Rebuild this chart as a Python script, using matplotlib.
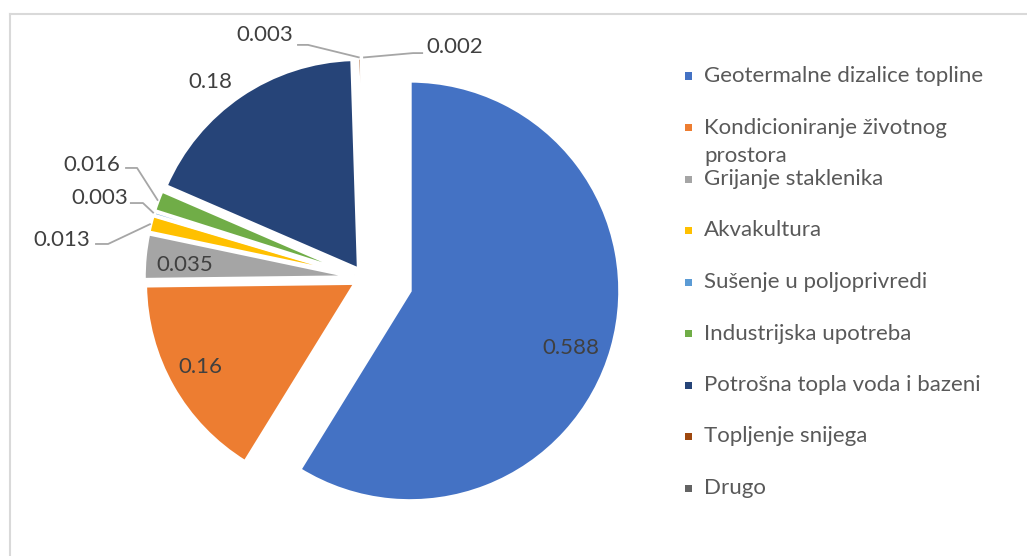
import numpy as np
import matplotlib.pyplot as plt
from matplotlib.patches import Rectangle
from matplotlib.lines import Line2D

categories = ['Geotermalne dizalice topline', 'Kondicioniranje životnog\nprostora',
              'Grijanje staklenika', 'Akvakultura', 'Sušenje u poljoprivredi',
              'Industrijska upotreba', 'Potrošna topla voda i bazeni',
              'Topljenje snijega', 'Drugo']
values = [0.588, 0.16, 0.035, 0.013, 0.003, 0.016, 0.18, 0.003, 0.002]
value_labels = ['0.588', '0.16', '0.035', '0.013', '0.003', '0.016', '0.18', '0.003', '0.002']
colors = ['#4472C4', '#ED7D31', '#A5A5A5', '#FFC000', '#5B9BD5',
          '#70AD47', '#264478', '#9E480E', '#636363']

plt.rcParams['font.family'] = ['Lato', 'DejaVu Sans']

W, H = 1027, 556
R = 210            # pie radius in px
cx, cy = 364.5, 278  # pie centre in px (from top-left)

fig = plt.figure(figsize=(W / 100, H / 100), dpi=100)
ax = fig.add_axes([0, 0, 1, 1])

explode = [0.225] + [0.05] * 8
wedges, _ = ax.pie(values, colors=colors, explode=explode, startangle=90,
                   counterclock=False,
                   wedgeprops=dict(edgecolor='white', linewidth=2.5))
ax.set_aspect('auto')
ax.set_xlim(-cx / R, (W - cx) / R)
ax.set_ylim(-(H - cy) / R, cy / R)
ax.axis('off')


def wedge_point(w, r, dtheta=0.0):
    ang = np.deg2rad((w.theta1 + w.theta2) / 2 + dtheta)
    return w.center[0] + r * np.cos(ang), w.center[1] + r * np.sin(ang)


lab_col = '#404040'
fs = 16

# labels inside / next to the big slices: radius, angle offset
inside = {0: (0.815, -3.7), 1: (0.84, -1.1), 2: (0.81, 1.6), 6: (1.14, 4.2)}
for i, (r, dt) in inside.items():
    x, y = wedge_point(wedges[i], r, dt)
    ax.text(x, y, value_labels[i], ha='center', va='center', fontsize=fs, color=lab_col)

# small slices with leader lines: text x, text y, tail start x, elbow x, line y
outside = {
    3: (-1.440, 0.181, -1.283, -1.221, 0.162),
    4: (-1.260, 0.381, -1.117, -1.055, 0.357),
    5: (-1.298, 0.538, -1.140, -1.083, 0.524),
    7: (-0.474, 1.157, -0.321, -0.269, 1.110),
    8: (0.431, 1.100, 0.279, 0.231, 1.071),
}
for i, (tx, ty, xs, xe, yl) in outside.items():
    px, py = wedge_point(wedges[i], 1.0)
    ax.plot([xs, xe, px], [yl, yl, py], color='#A6A6A6', lw=1.3, solid_capstyle='butt')
    ax.text(tx, ty, value_labels[i], ha='center', va='center', fontsize=fs, color=lab_col)

# legend
row0, step, line_h = 76, 51.5, 28.5
for i, (lab, col) in enumerate(zip(categories, colors)):
    yrow = row0 + step * i
    fig.add_artist(Rectangle((685 / W, 1 - (yrow + 3.5) / H), 7 / W, 7 / H,
                             transform=fig.transFigure, color=col, lw=0))
    for k, part in enumerate(lab.split('\n')):
        fig.text(704 / W, 1 - (yrow + k * line_h) / H, part, ha='left', va='center',
                 fontsize=fs, color='#595959')

# chart area border (left and top edges visible)
bc = '#D9D9D9'
fig.add_artist(Line2D([9.5 / W, 9.5 / W], [0, 1 - 14 / H], color=bc, lw=1.5))
fig.add_artist(Line2D([9.5 / W, 1], [1 - 14 / H, 1 - 14 / H], color=bc, lw=1.5))

fig.savefig('out.png', dpi=100, facecolor='white')
